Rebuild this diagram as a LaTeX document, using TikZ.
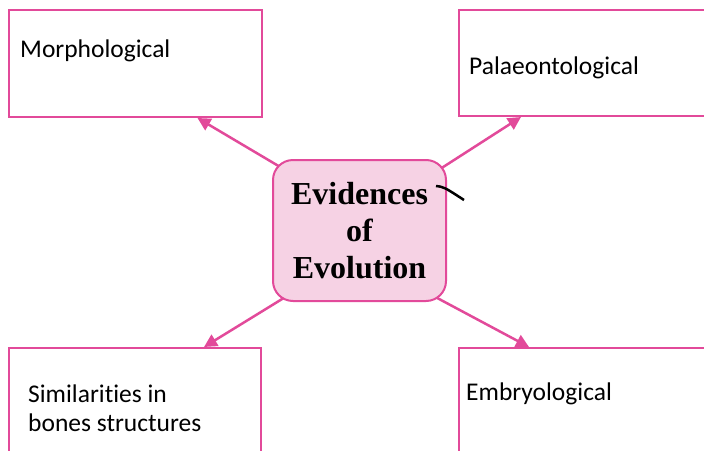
\documentclass[tikz,border=0pt]{standalone}
\usepackage{fontspec}
\setmainfont{Liberation Serif}
\newfontfamily\boxfont[Ligatures=NoCommon]{Carlito}
\usetikzlibrary{arrows.meta, backgrounds, positioning}
\definecolor{evopink}{HTML}{E24A9A}
\definecolor{evofill}{HTML}{F6D2E4}
\tikzset{
    evobox/.style={draw=evopink, line width=2pt, rectangle, anchor=north west, inner sep=0pt},
    evocentre/.style={draw=evopink, fill=evofill, line width=2pt, rounded corners=20pt,
        minimum width=173pt, minimum height=141pt, align=center,
        font=\bfseries\fontsize{32}{37}\selectfont},
    evotext/.style={anchor=base west, inner sep=0pt, align=left,
        font=\boxfont\fontsize{25.5}{29}\selectfont},
    evolink/.style={draw=evopink, line width=2.5pt, shorten <=-20pt,
        -{Triangle[length=13pt,width=13pt]}}
}
\begin{document}
\begin{tikzpicture}[x=1pt, y=-1pt]
    \clip (0,0) rectangle (704,450);
    \node[evobox, minimum width=253pt, minimum height=107pt] (morph) at (8,9) {};
    \node[evobox, minimum width=262pt, minimum height=106pt] (palae) at (458,9) {};
    \node[evobox, minimum width=252pt, minimum height=120pt] (simil) at (8,347) {};
    \node[evobox, minimum width=262pt, minimum height=120pt] (embryo) at (458,347) {};
    \node[evocentre] (evid) at (359.5,230.5) {Evidences\\of\\Evolution};
    \node[evotext] (morphtxt) at (20,57) {Morphological};
    \node[evotext] (palaetxt) at (469,74) {Palaeontological};
    \node[evotext] (similtxt) at (28,431) {Similarities in\\bones structures};
    \node[evotext] (embryotxt) at (466,400) {Embryological};
    \begin{scope}[on background layer]
    \draw[evolink] (evid.142) -- ([xshift=62pt]morph.south);
    \draw[evolink] (evid.37) -- ([xshift=-69pt]palae.south);
    \draw[evolink] (evid.221) -- ([xshift=69pt]simil.north);
    \draw[evolink] (evid.320) -- ([xshift=-61pt]embryo.north);
    \end{scope}
    \draw[black, line width=2.5pt] (436,186) .. controls (444,187) .. (464,200);
\end{tikzpicture}
\end{document}
